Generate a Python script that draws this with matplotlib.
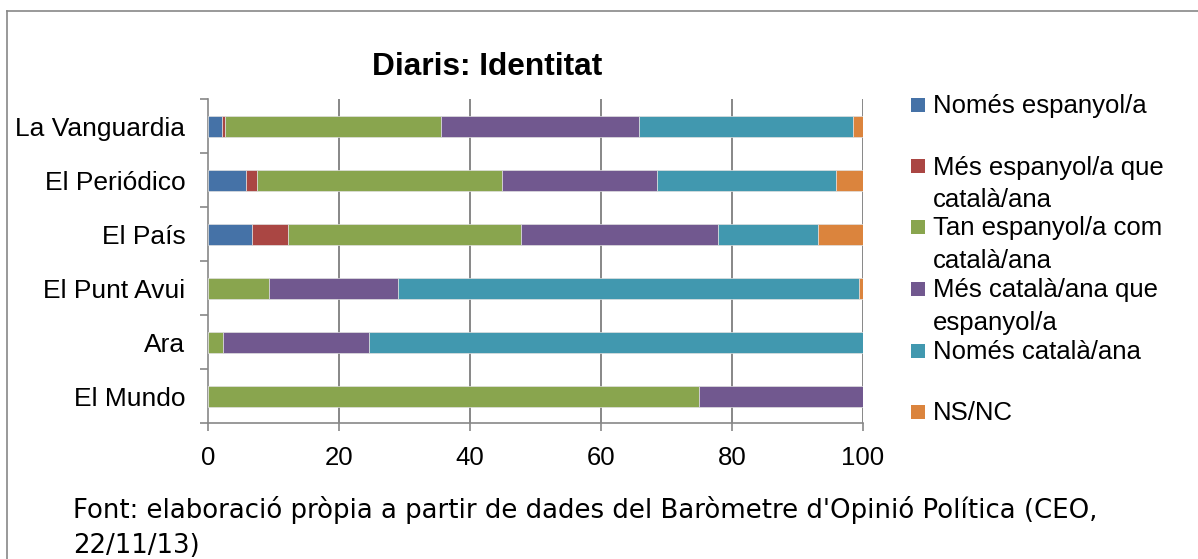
import matplotlib
matplotlib.use("Agg")
import matplotlib.pyplot as plt
from matplotlib.patches import Rectangle
from matplotlib.lines import Line2D
import numpy as np

plt.rcParams['font.family'] = ['Liberation Sans', 'DejaVu Sans']

categories = ["La Vanguardia", "El Periódico", "El País", "El Punt Avui", "Ara", "El Mundo"]
series_names = ["Només espanyol/a", "Més espanyol/a que\ncatalà/ana",
                "Tan espanyol/a com\ncatalà/ana", "Més català/ana que\nespanyol/a",
                "Només català/ana", "NS/NC"]
nomes_esp   = [2.1, 5.7, 6.7, 0.0, 0.0, 0.0]
mes_esp     = [0.4, 1.8, 5.4, 0.0, 0.0, 0.0]
tan         = [33.1, 37.3, 35.7, 9.2, 2.3, 75.0]
mes_cat     = [30.2, 23.7, 30.1, 19.8, 22.2, 25.0]
nomes_cat   = [32.7, 27.3, 15.3, 70.4, 75.5, 0.0]
nsnc        = [1.5, 4.2, 6.8, 0.6, 0.0, 0.0]
xticks = [0, 20, 40, 60, 80, 100]
footer_lines = ["Font: elaboració pròpia a partir de dades del Baròmetre d'Opinió Política (CEO,",
                "22/11/13)"]

colors = ["#4572A7", "#AA4643", "#89A54E", "#71588F", "#4198AF", "#DB843D"]
data = [nomes_esp, mes_esp, tan, mes_cat, nomes_cat, nsnc]

W, H = 1198, 559
fig = plt.figure(figsize=(W / 100, H / 100), dpi=100)
ax = fig.add_axes([208.3 / W, (H - 423.3) / H, 654.7 / W, 324 / H])

y = np.arange(len(categories))
left = np.zeros(len(categories))
for vals, col in zip(data, colors):
    vals = np.array(vals)
    ax.barh(y, vals, left=left, height=0.4, color=col, edgecolor='#e0e0e0',
            linewidth=0.5, zorder=3)
    left += vals

grid_col = "#878787"
ax.set_xlim(0, 100)
ax.set_ylim(len(categories) - 0.5, -0.5)
ax.set_xticks(xticks)
ax.set_xticklabels([str(v) for v in xticks])
ax.set_yticks(y)
ax.set_yticklabels(categories)
ax.set_yticks(np.arange(-0.5, len(categories)), minor=True)
for v in xticks[1:]:
    ax.axvline(v, color=grid_col, lw=1.4, zorder=1)

for s in ['top', 'right']:
    ax.spines[s].set_visible(False)
for s in ['left', 'bottom']:
    ax.spines[s].set_color(grid_col)
    ax.spines[s].set_linewidth(1.2)

ax.tick_params(axis='y', which='major', length=0, pad=16.5, labelsize=19)
ax.tick_params(axis='y', which='minor', length=6, width=1.2, color=grid_col, direction='out')
ax.tick_params(axis='x', which='major', length=6, width=1.2, color=grid_col,
               direction='out', pad=10, labelsize=18.5)

fig.text(487 / W, 1 - 67 / H, "Diaris: Identitat", fontsize=22.8, fontweight='bold',
         ha='center', va='center')

# legend (manual placement to match first-line alignment)
entry_y = [105, 166, 226.7, 289, 350.7, 411.7]
for name, col, yc in zip(series_names, colors, entry_y):
    fig.patches.append(Rectangle((911 / W, 1 - (yc + 7) / H), 14 / W, 14 / H,
                                 transform=fig.transFigure, facecolor=col,
                                 edgecolor='none'))
    fig.text(933 / W, 1 - (yc - 10.5) / H, name, fontsize=18.5, ha='left', va='top',
             linespacing=1.45)

for line, base in zip(footer_lines, [517.7, 552.7]):
    fig.text(73 / W, 1 - base / H, line, fontsize=18.7, ha='left', va='baseline',
             family=['DejaVu Sans'])

# outer frame (top and left edges visible)
fig.add_artist(Line2D([7 / W, 1.0], [1 - 11 / H, 1 - 11 / H], transform=fig.transFigure,
                      color=grid_col, lw=1.2))
fig.add_artist(Line2D([7 / W, 7 / W], [1 - 11 / H, 0], transform=fig.transFigure,
                      color=grid_col, lw=1.2))

fig.savefig("out.png", dpi=100, facecolor='white')
